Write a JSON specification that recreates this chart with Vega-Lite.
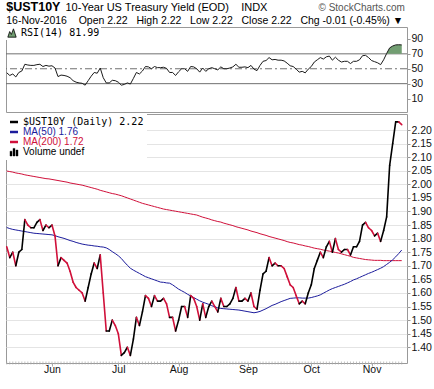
{
  "$schema": "https://vega.github.io/schema/vega-lite/v6.json",
  "padding": {"left": 4, "top": 0, "right": 2, "bottom": 2},
  "background": "white",
  "datasets": {
    "px": [
      {"date":"2016-05-10","close":1.77,"ma50":1.841,"ma200":2.049,"rsi":44.6},
      {"date":"2016-05-11","close":1.73,"ma50":1.837,"ma200":2.047,"rsi":41},
      {"date":"2016-05-12","close":1.75,"ma50":1.834,"ma200":2.045,"rsi":43},
      {"date":"2016-05-13","close":1.70,"ma50":1.832,"ma200":2.042,"rsi":39},
      {"date":"2016-05-16","close":1.75,"ma50":1.830,"ma200":2.040,"rsi":45},
      {"date":"2016-05-17","close":1.76,"ma50":1.828,"ma200":2.038,"rsi":47},
      {"date":"2016-05-18","close":1.87,"ma50":1.826,"ma200":2.035,"rsi":56},
      {"date":"2016-05-19","close":1.85,"ma50":1.824,"ma200":2.033,"rsi":55},
      {"date":"2016-05-20","close":1.84,"ma50":1.822,"ma200":2.031,"rsi":54.5},
      {"date":"2016-05-23","close":1.84,"ma50":1.820,"ma200":2.029,"rsi":54.5},
      {"date":"2016-05-24","close":1.86,"ma50":1.819,"ma200":2.027,"rsi":55.5},
      {"date":"2016-05-25","close":1.87,"ma50":1.818,"ma200":2.025,"rsi":56},
      {"date":"2016-05-26","close":1.83,"ma50":1.817,"ma200":2.023,"rsi":53},
      {"date":"2016-05-27","close":1.85,"ma50":1.816,"ma200":2.021,"rsi":54.5},
      {"date":"2016-05-31","close":1.84,"ma50":1.815,"ma200":2.020,"rsi":53.5},
      {"date":"2016-06-01","close":1.85,"ma50":1.814,"ma200":2.018,"rsi":54},
      {"date":"2016-06-02","close":1.81,"ma50":1.811,"ma200":2.016,"rsi":51},
      {"date":"2016-06-03","close":1.70,"ma50":1.807,"ma200":2.014,"rsi":39.5},
      {"date":"2016-06-06","close":1.73,"ma50":1.804,"ma200":2.012,"rsi":41.5},
      {"date":"2016-06-07","close":1.72,"ma50":1.801,"ma200":2.010,"rsi":41},
      {"date":"2016-06-08","close":1.71,"ma50":1.797,"ma200":2.008,"rsi":40},
      {"date":"2016-06-09","close":1.68,"ma50":1.793,"ma200":2.005,"rsi":38},
      {"date":"2016-06-10","close":1.64,"ma50":1.790,"ma200":2.003,"rsi":34},
      {"date":"2016-06-13","close":1.62,"ma50":1.786,"ma200":2.001,"rsi":32},
      {"date":"2016-06-14","close":1.61,"ma50":1.783,"ma200":1.999,"rsi":31},
      {"date":"2016-06-15","close":1.60,"ma50":1.780,"ma200":1.997,"rsi":30.5},
      {"date":"2016-06-16","close":1.57,"ma50":1.778,"ma200":1.994,"rsi":28},
      {"date":"2016-06-17","close":1.62,"ma50":1.776,"ma200":1.991,"rsi":34},
      {"date":"2016-06-20","close":1.67,"ma50":1.775,"ma200":1.988,"rsi":40},
      {"date":"2016-06-21","close":1.71,"ma50":1.773,"ma200":1.985,"rsi":45},
      {"date":"2016-06-22","close":1.69,"ma50":1.772,"ma200":1.982,"rsi":44},
      {"date":"2016-06-23","close":1.74,"ma50":1.770,"ma200":1.978,"rsi":51},
      {"date":"2016-06-24","close":1.60,"ma50":1.769,"ma200":1.975,"rsi":38},
      {"date":"2016-06-27","close":1.46,"ma50":1.766,"ma200":1.972,"rsi":31},
      {"date":"2016-06-28","close":1.46,"ma50":1.760,"ma200":1.969,"rsi":31},
      {"date":"2016-06-29","close":1.50,"ma50":1.752,"ma200":1.966,"rsi":34.5},
      {"date":"2016-06-30","close":1.48,"ma50":1.745,"ma200":1.964,"rsi":34},
      {"date":"2016-07-01","close":1.45,"ma50":1.737,"ma200":1.961,"rsi":32},
      {"date":"2016-07-05","close":1.37,"ma50":1.727,"ma200":1.958,"rsi":28},
      {"date":"2016-07-06","close":1.38,"ma50":1.714,"ma200":1.954,"rsi":29},
      {"date":"2016-07-07","close":1.40,"ma50":1.702,"ma200":1.950,"rsi":31},
      {"date":"2016-07-08","close":1.37,"ma50":1.691,"ma200":1.946,"rsi":29.5},
      {"date":"2016-07-11","close":1.43,"ma50":1.684,"ma200":1.942,"rsi":37},
      {"date":"2016-07-12","close":1.51,"ma50":1.678,"ma200":1.938,"rsi":45},
      {"date":"2016-07-13","close":1.48,"ma50":1.672,"ma200":1.934,"rsi":43},
      {"date":"2016-07-14","close":1.53,"ma50":1.666,"ma200":1.930,"rsi":47},
      {"date":"2016-07-15","close":1.59,"ma50":1.660,"ma200":1.927,"rsi":53},
      {"date":"2016-07-18","close":1.58,"ma50":1.656,"ma200":1.924,"rsi":52.5},
      {"date":"2016-07-19","close":1.55,"ma50":1.652,"ma200":1.921,"rsi":50},
      {"date":"2016-07-20","close":1.59,"ma50":1.648,"ma200":1.918,"rsi":53},
      {"date":"2016-07-21","close":1.57,"ma50":1.644,"ma200":1.915,"rsi":51.5},
      {"date":"2016-07-22","close":1.57,"ma50":1.640,"ma200":1.912,"rsi":51.5},
      {"date":"2016-07-25","close":1.58,"ma50":1.639,"ma200":1.909,"rsi":52},
      {"date":"2016-07-26","close":1.56,"ma50":1.637,"ma200":1.907,"rsi":50.5},
      {"date":"2016-07-27","close":1.51,"ma50":1.636,"ma200":1.905,"rsi":45},
      {"date":"2016-07-28","close":1.51,"ma50":1.630,"ma200":1.903,"rsi":45},
      {"date":"2016-07-29","close":1.46,"ma50":1.622,"ma200":1.901,"rsi":41},
      {"date":"2016-08-01","close":1.50,"ma50":1.614,"ma200":1.899,"rsi":46},
      {"date":"2016-08-02","close":1.55,"ma50":1.608,"ma200":1.897,"rsi":50},
      {"date":"2016-08-03","close":1.55,"ma50":1.602,"ma200":1.895,"rsi":50},
      {"date":"2016-08-04","close":1.51,"ma50":1.595,"ma200":1.893,"rsi":46.5},
      {"date":"2016-08-05","close":1.59,"ma50":1.589,"ma200":1.891,"rsi":53},
      {"date":"2016-08-08","close":1.58,"ma50":1.583,"ma200":1.889,"rsi":52.5},
      {"date":"2016-08-09","close":1.55,"ma50":1.577,"ma200":1.887,"rsi":50},
      {"date":"2016-08-10","close":1.50,"ma50":1.571,"ma200":1.883,"rsi":45.5},
      {"date":"2016-08-11","close":1.56,"ma50":1.566,"ma200":1.879,"rsi":51},
      {"date":"2016-08-12","close":1.51,"ma50":1.562,"ma200":1.876,"rsi":46.5},
      {"date":"2016-08-15","close":1.55,"ma50":1.558,"ma200":1.873,"rsi":50},
      {"date":"2016-08-16","close":1.57,"ma50":1.553,"ma200":1.869,"rsi":51.5},
      {"date":"2016-08-17","close":1.55,"ma50":1.549,"ma200":1.866,"rsi":50},
      {"date":"2016-08-18","close":1.53,"ma50":1.545,"ma200":1.863,"rsi":48.5},
      {"date":"2016-08-19","close":1.58,"ma50":1.543,"ma200":1.861,"rsi":52.5},
      {"date":"2016-08-22","close":1.55,"ma50":1.542,"ma200":1.857,"rsi":50},
      {"date":"2016-08-23","close":1.55,"ma50":1.541,"ma200":1.854,"rsi":50},
      {"date":"2016-08-24","close":1.56,"ma50":1.540,"ma200":1.851,"rsi":51},
      {"date":"2016-08-25","close":1.58,"ma50":1.539,"ma200":1.848,"rsi":52.5},
      {"date":"2016-08-26","close":1.62,"ma50":1.538,"ma200":1.844,"rsi":56},
      {"date":"2016-08-29","close":1.57,"ma50":1.537,"ma200":1.841,"rsi":52},
      {"date":"2016-08-30","close":1.57,"ma50":1.535,"ma200":1.838,"rsi":52},
      {"date":"2016-08-31","close":1.58,"ma50":1.533,"ma200":1.835,"rsi":52.5},
      {"date":"2016-09-01","close":1.57,"ma50":1.531,"ma200":1.832,"rsi":51.5},
      {"date":"2016-09-02","close":1.60,"ma50":1.529,"ma200":1.828,"rsi":54.5},
      {"date":"2016-09-06","close":1.55,"ma50":1.527,"ma200":1.825,"rsi":49.5},
      {"date":"2016-09-07","close":1.54,"ma50":1.529,"ma200":1.822,"rsi":47.5},
      {"date":"2016-09-08","close":1.61,"ma50":1.532,"ma200":1.818,"rsi":54.5},
      {"date":"2016-09-09","close":1.67,"ma50":1.537,"ma200":1.815,"rsi":60},
      {"date":"2016-09-12","close":1.68,"ma50":1.542,"ma200":1.812,"rsi":61},
      {"date":"2016-09-13","close":1.73,"ma50":1.548,"ma200":1.808,"rsi":65},
      {"date":"2016-09-14","close":1.70,"ma50":1.554,"ma200":1.805,"rsi":62},
      {"date":"2016-09-15","close":1.71,"ma50":1.558,"ma200":1.802,"rsi":62.5},
      {"date":"2016-09-16","close":1.70,"ma50":1.563,"ma200":1.799,"rsi":61.5},
      {"date":"2016-09-19","close":1.70,"ma50":1.568,"ma200":1.796,"rsi":61.5},
      {"date":"2016-09-20","close":1.69,"ma50":1.572,"ma200":1.793,"rsi":60.5},
      {"date":"2016-09-21","close":1.66,"ma50":1.576,"ma200":1.789,"rsi":57.5},
      {"date":"2016-09-22","close":1.63,"ma50":1.580,"ma200":1.786,"rsi":54},
      {"date":"2016-09-23","close":1.62,"ma50":1.581,"ma200":1.784,"rsi":53},
      {"date":"2016-09-26","close":1.59,"ma50":1.582,"ma200":1.781,"rsi":49.5},
      {"date":"2016-09-27","close":1.56,"ma50":1.582,"ma200":1.778,"rsi":45.5},
      {"date":"2016-09-28","close":1.57,"ma50":1.581,"ma200":1.776,"rsi":46.5},
      {"date":"2016-09-29","close":1.56,"ma50":1.581,"ma200":1.773,"rsi":44.5},
      {"date":"2016-09-30","close":1.60,"ma50":1.581,"ma200":1.771,"rsi":49.5},
      {"date":"2016-10-03","close":1.63,"ma50":1.583,"ma200":1.768,"rsi":53},
      {"date":"2016-10-04","close":1.69,"ma50":1.586,"ma200":1.765,"rsi":59},
      {"date":"2016-10-05","close":1.72,"ma50":1.589,"ma200":1.763,"rsi":62},
      {"date":"2016-10-06","close":1.75,"ma50":1.593,"ma200":1.761,"rsi":65},
      {"date":"2016-10-07","close":1.73,"ma50":1.599,"ma200":1.758,"rsi":63},
      {"date":"2016-10-11","close":1.77,"ma50":1.605,"ma200":1.756,"rsi":66},
      {"date":"2016-10-12","close":1.79,"ma50":1.611,"ma200":1.754,"rsi":67},
      {"date":"2016-10-13","close":1.75,"ma50":1.616,"ma200":1.752,"rsi":61.5},
      {"date":"2016-10-14","close":1.80,"ma50":1.620,"ma200":1.749,"rsi":65.5},
      {"date":"2016-10-17","close":1.76,"ma50":1.624,"ma200":1.747,"rsi":61.5},
      {"date":"2016-10-18","close":1.75,"ma50":1.628,"ma200":1.744,"rsi":59},
      {"date":"2016-10-19","close":1.76,"ma50":1.632,"ma200":1.741,"rsi":60},
      {"date":"2016-10-20","close":1.76,"ma50":1.637,"ma200":1.738,"rsi":60},
      {"date":"2016-10-21","close":1.74,"ma50":1.642,"ma200":1.735,"rsi":57},
      {"date":"2016-10-24","close":1.77,"ma50":1.648,"ma200":1.731,"rsi":60},
      {"date":"2016-10-25","close":1.77,"ma50":1.652,"ma200":1.729,"rsi":60},
      {"date":"2016-10-26","close":1.79,"ma50":1.657,"ma200":1.727,"rsi":62},
      {"date":"2016-10-27","close":1.85,"ma50":1.662,"ma200":1.725,"rsi":67.5},
      {"date":"2016-10-28","close":1.86,"ma50":1.667,"ma200":1.723,"rsi":68},
      {"date":"2016-10-31","close":1.84,"ma50":1.672,"ma200":1.722,"rsi":65},
      {"date":"2016-11-01","close":1.83,"ma50":1.676,"ma200":1.721,"rsi":61},
      {"date":"2016-11-02","close":1.81,"ma50":1.681,"ma200":1.720,"rsi":59.5},
      {"date":"2016-11-03","close":1.82,"ma50":1.686,"ma200":1.720,"rsi":58},
      {"date":"2016-11-04","close":1.79,"ma50":1.691,"ma200":1.720,"rsi":55.5},
      {"date":"2016-11-07","close":1.83,"ma50":1.697,"ma200":1.719,"rsi":62},
      {"date":"2016-11-08","close":1.88,"ma50":1.705,"ma200":1.719,"rsi":70.5},
      {"date":"2016-11-09","close":2.07,"ma50":1.713,"ma200":1.719,"rsi":78},
      {"date":"2016-11-10","close":2.15,"ma50":1.722,"ma200":1.719,"rsi":80.5},
      {"date":"2016-11-14","close":2.23,"ma50":1.733,"ma200":1.719,"rsi":82},
      {"date":"2016-11-15","close":2.23,"ma50":1.745,"ma200":1.719,"rsi":82.2},
      {"date":"2016-11-16","close":2.22,"ma50":1.758,"ma200":1.719,"rsi":82}
    ]
  },
  "data": {"name": "px"},
  "title": {
    "text": "$UST10Y",
    "subtitle": "16-Nov-2016\u00a0\u00a0\u00a0 Open 2.22\u00a0\u00a0 High 2.22\u00a0\u00a0 Low 2.22\u00a0\u00a0 Close 2.22\u00a0\u00a0 Chg -0.01 (-0.45%) \u25bc",
    "anchor": "start",
    "dx": 2,
    "offset": -26,
    "font": "Liberation Sans",
    "fontSize": 12.5,
    "fontWeight": "bold",
    "color": "#000000",
    "subtitleFont": "Liberation Sans",
    "subtitleFontSize": 10.5,
    "subtitleColor": "#000000",
    "subtitlePadding": 3
  },
  "spacing": 0,
  "resolve": {
    "scale": {"color": "independent", "fill": "independent"},
    "legend": {"color": "independent", "fill": "independent"}
  },
  "vconcat": [
    {
      "width": 401,
      "height": 85,
      "layer": [
        {
          "data": {"values": [{}]},
          "mark": {"type": "rule", "color": "#707070", "strokeWidth": 1},
          "encoding": {"y": {"datum": 70, "type": "quantitative", "scale": {"domain": [-8, 106], "nice": false, "zero": false},
            "axis": {"orient": "right", "values": [10, 30, 50, 70, 90], "tickSize": 3, "tickColor": "#999999", "labelPadding": 1, "labelOverlap": false, "gridColor": "#e4e4e4",
              "title": "\u00a9 StockCharts.com", "titleX": -89, "titleY": -17, "titleAlign": "left", "titleAnchor": "start", "titleBaseline": "alphabetic", "titleAngle": 0,
              "titleFont": "Liberation Sans", "titleFontSize": 10, "titleFontWeight": "normal", "titleColor": "#555555"}}}
        },
        {
          "data": {"values": [{}]},
          "mark": {"type": "rule", "color": "#707070", "strokeWidth": 1},
          "encoding": {"y": {"datum": 30, "type": "quantitative",
            "axis": {"orient": "right", "values": [10, 30, 50, 70, 90], "tickSize": 3, "tickColor": "#999999", "labelPadding": 1, "labelOverlap": false, "gridColor": "#e4e4e4",
              "title": "\u00a9 StockCharts.com", "titleX": -89, "titleY": -17, "titleAlign": "left", "titleAnchor": "start", "titleBaseline": "alphabetic", "titleAngle": 0,
              "titleFont": "Liberation Sans", "titleFontSize": 10, "titleFontWeight": "normal", "titleColor": "#555555"}}}
        },
        {
          "data": {"values": [{}]},
          "mark": {"type": "rule", "color": "#707070", "strokeWidth": 1, "strokeDash": [7, 3, 2, 3]},
          "encoding": {"y": {"datum": 50, "type": "quantitative",
            "axis": {"orient": "right", "values": [10, 30, 50, 70, 90], "tickSize": 3, "tickColor": "#999999", "labelPadding": 1, "labelOverlap": false, "gridColor": "#e4e4e4",
              "title": "\u00a9 StockCharts.com", "titleX": -89, "titleY": -17, "titleAlign": "left", "titleAnchor": "start", "titleBaseline": "alphabetic", "titleAngle": 0,
              "titleFont": "Liberation Sans", "titleFontSize": 10, "titleFontWeight": "normal", "titleColor": "#555555"}}}
        },
        {
          "transform": [{"filter": "datum.rsi >= 70"}],
          "mark": {"type": "area"},
          "encoding": {
            "x": {
              "field": "date", "type": "ordinal",
              "scale": {"type": "point", "padding": 1.3333, "align": 0.125, "round": false},
              "axis": {
                "orient": "top", "labels": false, "ticks": false, "domain": false,
                "values": ["2016-06-01","2016-07-01","2016-08-01","2016-09-01","2016-10-03","2016-11-01"],
                "gridColor": "#dcdcdc",
                "title": "10-Year US Treasury Yield (EOD)\u00a0\u00a0\u00a0 INDX",
                "titleX": 59, "titleY": -17, "titleAlign": "left", "titleAnchor": "start",
                "titleBaseline": "alphabetic", "titleAngle": 0,
                "titleFont": "Liberation Sans", "titleFontSize": 11, "titleFontWeight": "normal", "titleColor": "#000000"
              }
            },
            "y": {
              "field": "rsi", "type": "quantitative",
              "axis": {"orient": "right", "values": [10, 30, 50, 70, 90], "tickSize": 3, "tickColor": "#999999", "labelPadding": 1, "labelOverlap": false, "gridColor": "#e4e4e4",
                "title": "\u00a9 StockCharts.com", "titleX": -89, "titleY": -17, "titleAlign": "left", "titleAnchor": "start", "titleBaseline": "alphabetic", "titleAngle": 0,
                "titleFont": "Liberation Sans", "titleFontSize": 10, "titleFontWeight": "normal", "titleColor": "#555555"}
            },
            "y2": {"datum": 70},
            "fill": {
              "datum": "RSI(14) 81.99",
              "scale": {"range": ["#729e72"]},
              "legend": {
                "orient": "top-left", "title": null, "offset": 0, "padding": 1,
                "symbolType": "M-1,1L-0.55,-0.35L-0.15,0.35L0.35,-1L1,1Z",
                "symbolSize": 70, "symbolStrokeColor": "#000000", "symbolStrokeWidth": 0.8,
                "labelFont": "DejaVu Sans Mono", "labelFontSize": 10, "labelOffset": 4,
                "labelColor": "#000000", "fillColor": "white"
              }
            }
          }
        },
        {
          "mark": {"type": "line", "color": "#1a1a1a", "strokeWidth": 1},
          "encoding": {
            "x": {"field": "date", "type": "ordinal",
              "axis": {
                "orient": "top", "labels": false, "ticks": false, "domain": false,
                "values": ["2016-06-01","2016-07-01","2016-08-01","2016-09-01","2016-10-03","2016-11-01"],
                "gridColor": "#dcdcdc",
                "title": "10-Year US Treasury Yield (EOD)\u00a0\u00a0\u00a0 INDX",
                "titleX": 59, "titleY": -17, "titleAlign": "left", "titleAnchor": "start",
                "titleBaseline": "alphabetic", "titleAngle": 0,
                "titleFont": "Liberation Sans", "titleFontSize": 11, "titleFontWeight": "normal", "titleColor": "#000000"
              }},
            "y": {"field": "rsi", "type": "quantitative",
              "axis": {"orient": "right", "values": [10, 30, 50, 70, 90], "tickSize": 3, "tickColor": "#999999", "labelPadding": 1, "labelOverlap": false, "gridColor": "#e4e4e4",
                "title": "\u00a9 StockCharts.com", "titleX": -89, "titleY": -17, "titleAlign": "left", "titleAnchor": "start", "titleBaseline": "alphabetic", "titleAngle": 0,
                "titleFont": "Liberation Sans", "titleFontSize": 10, "titleFontWeight": "normal", "titleColor": "#555555"}}
          }
        }
      ]
    },
    {
      "width": 401,
      "height": 249,
      "layer": [
        {
          "mark": {"type": "line", "strokeWidth": 1},
          "encoding": {
            "x": {
              "field": "date", "type": "ordinal",
              "scale": {"type": "point", "padding": 1.3333, "align": 0.125, "round": false},
              "axis": {
                "title": null, "domain": false, "labelAngle": 0,
                "values": ["2016-06-01","2016-07-01","2016-08-01","2016-09-01","2016-10-03","2016-11-01"],
                "tickSize": 3, "tickColor": "#aaaaaa",
                "labelPadding": -2,
                "labelExpr": "utcFormat(toDate(datum.value), '%b')",
                "gridColor": "#dcdcdc"
              }
            },
            "y": {
              "field": "ma200", "type": "quantitative",
              "scale": {"domain": [1.342, 2.259], "nice": false, "zero": false},
              "axis": {"orient": "right", "title": null, "values": [1.4, 1.45, 1.5, 1.55, 1.6, 1.65, 1.7, 1.75, 1.8, 1.85, 1.9, 1.95, 2.0, 2.05, 2.1, 2.15, 2.2], "format": ".2f", "tickSize": 3, "tickColor": "#999999", "labelPadding": 1, "labelOverlap": false, "gridColor": "#e4e4e4"}
            },
            "color": {
              "datum": "MA(200) 1.72",
              "scale": {
                "domain": ["$UST10Y (Daily) 2.22", "MA(50) 1.76", "MA(200) 1.72", "Volume undef"],
                "range": ["#000000", "#1c1c9c", "#d0103a", "#000000"]
              },
              "legend": {
                "orient": "top-left", "title": null, "offset": 0, "padding": 3, "rowPadding": 0,
                "symbolType": {"expr": "datum.value === 'Volume undef' ? 'M-1,1V-0.2H-0.5V1ZM-0.25,1V-0.9H0.25V1ZM0.5,1V-0.5H1V1Z' : 'stroke'"},
                "symbolFillColor": {"expr": "datum.value === 'Volume undef' ? '#000000' : 'transparent'"},
                "symbolStrokeWidth": {"expr": "datum.value === 'Volume undef' ? 0.4 : 2.5"},
                "symbolSize": 64,
                "labelFont": {"expr": "datum.value === '$UST10Y (Daily) 2.22' ? 'DejaVu Sans Mono' : 'Liberation Sans'"},
                "labelColor": {"expr": "datum.value === 'MA(50) 1.76' ? '#1c1c9c' : datum.value === 'MA(200) 1.72' ? '#d0103a' : '#000000'"},
                "labelFontSize": 10, "labelOffset": 4, "labelLimit": 300,
                "fillColor": "white"
              }
            }
          }
        },
        {
          "mark": {"type": "line", "strokeWidth": 1},
          "encoding": {
            "x": {"field": "date", "type": "ordinal"},
            "y": {"field": "ma50", "type": "quantitative",
              "axis": {"orient": "right", "title": null, "values": [1.4, 1.45, 1.5, 1.55, 1.6, 1.65, 1.7, 1.75, 1.8, 1.85, 1.9, 1.95, 2.0, 2.05, 2.1, 2.15, 2.2], "format": ".2f", "tickSize": 3, "tickColor": "#999999", "labelPadding": 1, "labelOverlap": false, "gridColor": "#e4e4e4"}},
            "color": {"datum": "MA(50) 1.76"}
          }
        },
        {
          "transform": [
            {"window": [{"op": "lag", "field": "close", "as": "prev"}, {"op": "lag", "field": "date", "as": "prevDate"}], "sort": [{"field": "date", "order": "ascending"}]},
            {"filter": "datum.prevDate != null"}
          ],
          "mark": {"type": "rule", "strokeWidth": 1.6, "strokeCap": "round"},
          "encoding": {
            "x": {"field": "date", "type": "ordinal"},
            "x2": {"field": "prevDate"},
            "y": {"field": "close", "type": "quantitative",
              "axis": {"orient": "right", "title": null, "values": [1.4, 1.45, 1.5, 1.55, 1.6, 1.65, 1.7, 1.75, 1.8, 1.85, 1.9, 1.95, 2.0, 2.05, 2.1, 2.15, 2.2], "format": ".2f", "tickSize": 3, "tickColor": "#999999", "labelPadding": 1, "labelOverlap": false, "gridColor": "#e4e4e4"}},
            "y2": {"field": "prev"},
            "color": {"condition": {"test": "datum.close < datum.prev", "value": "#d0103a"}, "datum": "$UST10Y (Daily) 2.22"}
          }
        },
        {
          "mark": {"type": "tick", "orient": "vertical", "size": 3, "thickness": 1, "color": "#aaaaaa"},
          "encoding": {
            "x": {"field": "date", "type": "ordinal"},
            "y": {"datum": 1.342, "type": "quantitative",
              "axis": {"orient": "right", "title": null, "values": [1.4, 1.45, 1.5, 1.55, 1.6, 1.65, 1.7, 1.75, 1.8, 1.85, 1.9, 1.95, 2.0, 2.05, 2.1, 2.15, 2.2], "format": ".2f", "tickSize": 3, "tickColor": "#999999", "labelPadding": 1, "labelOverlap": false, "gridColor": "#e4e4e4"}}
          }
        }
      ]
    }
  ],
  "config": {
    "view": {"stroke": "#999999", "strokeWidth": 1},
    "axis": {"labelFont": "Liberation Sans", "labelFontSize": 10.5, "labelColor": "#111111", "domain": false},
    "legend": {"labelFont": "Liberation Sans"}
  }
}
